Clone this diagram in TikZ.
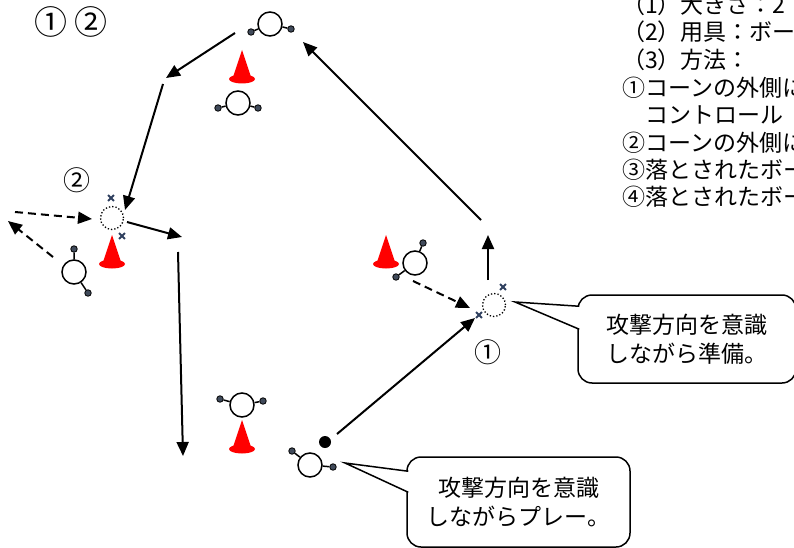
\documentclass[tikz,border=0pt]{standalone}
\usepackage{fontspec}
\newfontfamily\jp{Noto Sans CJK JP}
\usetikzlibrary{positioning,calc,arrows.meta,shapes.misc}
\definecolor{conered}{RGB}{255,0,0}
\definecolor{handgray}{RGB}{64,74,90}
\definecolor{spotblue}{RGB}{46,63,94}
\newcommand{\cone}[1]{%
  \fill[conered] #1 -- ++(-9,27) -- ++(18,0) -- cycle;
  \fill[conered] #1 ++(0,29) ellipse (13 and 4.5);}

\begin{document}
\begin{tikzpicture}[
  x=1pt, y=-1pt,
  >={Triangle[length=14pt,width=12pt]},
  player/.style={draw,circle,line width=1.5pt,minimum size=24pt,inner sep=0pt,fill=white},
  hand/.style={draw,circle,fill=handgray,line width=0.8pt,minimum size=6.5pt,inner sep=0pt},
  ghost/.style={draw,circle,dotted,line width=1.3pt,minimum size=23pt,inner sep=0pt},
  spot/.style={draw=spotblue,cross out,line width=1.8pt,minimum size=4pt,inner sep=0pt},
  limb/.style={draw,line width=1.5pt},
  runline/.style={draw,->,line width=2pt},
  passline/.style={draw,->,line width=2pt,dash pattern=on 8pt off 5pt},
  tag/.style={inner sep=0pt,font=\jp\fontsize{27}{27}\selectfont},
  ruletext/.style={anchor=west,inner sep=0pt,font=\jp\fontsize{23}{23}\selectfont},
  bubble/.style={draw,line width=1.5pt,rounded corners=14pt,fill=white,align=center,
    font=\jp\fontsize{23}{29}\selectfont},
  pointer/.style={draw,line width=1.5pt,fill=white,line join=miter},
  ]
  \useasboundingbox (0,0) rectangle (794,548);

  % text
  \node[tag,font=\jp\fontsize{33}{33}\selectfont] (tags) at (71,22) {① ②};
  \node[ruletext] (size) at (622,5) {（1）大きさ：2};
  \node[ruletext] (tool) at (622,32) {（2）用具：ボー};
  \node[ruletext] (method) at (622,60) {（3）方法：};
  \node[ruletext] (stepOne) at (622,88) {①コーンの外側に};
  \node[ruletext] (stepOneB) at (622,115) {　コントロール};
  \node[ruletext] (stepTwo) at (622,143) {②コーンの外側に};
  \node[ruletext] (stepThree) at (622,170) {③落とされたボー};
  \node[ruletext] (stepFour) at (622,197) {④落とされたボー};

  % cones
  \cone{(242,50)}
  \cone{(112,235)}
  \cone{(386,235)}
  \cone{(242,420)}

  % players
  \node[player] (topMan) at (270,24) {};
  \node[hand] (topManL) at (251,32) {};
  \node[hand] (topManR) at (291,29) {};
  \node[player] (coneMan) at (238,103) {};
  \node[hand] (coneManL) at (218,108) {};
  \node[hand] (coneManR) at (258,108) {};
  \node[player] (leftMan) at (74,272) {};
  \node[hand] (leftManT) at (74,249) {};
  \node[hand] (leftManB) at (88,293) {};
  \node[player] (rightMan) at (415,263) {};
  \node[hand] (rightManT) at (423,243) {};
  \node[hand] (rightManB) at (396,277) {};
  \node[player] (lowMan) at (242,405) {};
  \node[hand] (lowManL) at (220,399) {};
  \node[hand] (lowManR) at (263,401) {};
  \node[player] (ballMan) at (310,465) {};
  \node[hand] (ballManL) at (292,451) {};
  \node[hand] (ballManR) at (333,467) {};
  \node[circle,fill,minimum size=12pt,inner sep=0pt] (ball) at (325,442) {};
  \path[limb]
  (topMan) -- (topManL) (topMan) -- (topManR)
  (coneMan) -- (coneManL) (coneMan) -- (coneManR)
  (leftMan) -- (leftManT) (leftMan) -- (leftManB)
  (rightMan) -- (rightManT) (rightMan) -- (rightManB)
  (lowMan) -- (lowManL) (lowMan) -- (lowManR)
  (ballMan) -- (ballManL) (ballMan) -- (ballManR);

  % spots to move to
  \node[ghost] (ghostB) at (112,218) {};
  \node[spot] (ghostBT) at (111,198) {};
  \node[spot] (ghostBB) at (122,236) {};
  \node[tag] (tagB) at (77,180) {②};
  \node[ghost] (ghostA) at (494,305) {};
  \node[spot] (ghostAT) at (503,287) {};
  \node[spot] (ghostAB) at (479,315) {};
  \node[tag] (tagA) at (488,352) {①};

  % runs
  \coordinate (runA1) at (235,33);
  \coordinate (runA2) at (166,78);
  \coordinate (runB1) at (163,84);
  \coordinate (runB2) at (125,210);
  \coordinate (runC1) at (127,222);
  \coordinate (runC2) at (182,237);
  \coordinate (runD1) at (178,252);
  \coordinate (runD2) at (183,456);
  \coordinate (runE1) at (337,434);
  \coordinate (runE2) at (475,318);
  \coordinate (runF1) at (488,280);
  \coordinate (runF2) at (488,235);
  \coordinate (runG1) at (481,220);
  \coordinate (runG2) at (303,42);
  \path[runline] (runA1) -- (runA2);
  \path[runline] (runB1) -- (runB2);
  \path[runline] (runC1) -- (runC2);
  \path[runline] (runD1) -- (runD2);
  \path[runline] (runE1) -- (runE2);
  \path[runline] (runF1) -- (runF2);
  \path[runline] (runG1) -- (runG2);

  % passes
  \coordinate (passA1) at (15,212);
  \coordinate (passA2) at (92,219);
  \coordinate (passB1) at (53,257);
  \coordinate (passB2) at (8,221);
  \coordinate (passC1) at (413,281);
  \coordinate (passC2) at (470,308);
  \path[passline] (passA1) -- (passA2);
  \path[passline] (passB1) -- (passB2);
  \path[passline] (passC1) -- (passC2);

  % notes
  \node[bubble,minimum width=218pt,minimum height=88pt] (noteReady) at (687,339)
  {攻撃方向を意識\\しながら準備。};
  \coordinate (tipReady) at (515,302);
  \path[pointer] ($(noteReady.north west)+(2,12)$) -- (tipReady)
  -- ($(noteReady.north west)+(2,35)$);
  \node[bubble,minimum width=223pt,minimum height=90pt] (notePlay) at (518.5,502)
  {攻撃方向を意識\\しながらプレー。};
  \coordinate (tipPlay) at (345,463);
  \path[pointer] ($(notePlay.north west)+(2,15)$) -- (tipPlay)
  -- ($(notePlay.north west)+(2,36)$);
\end{tikzpicture}
\end{document}
